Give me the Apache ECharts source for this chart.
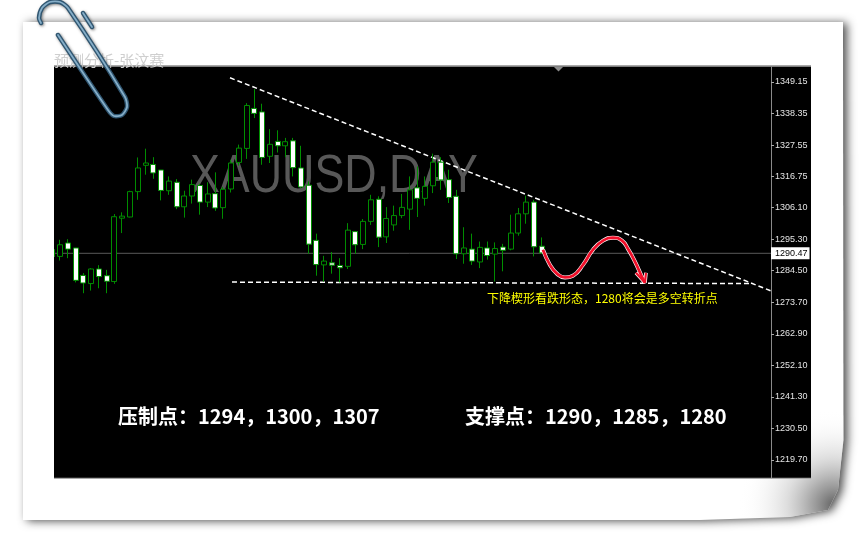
<!DOCTYPE html>
<html><head><meta charset="utf-8">
<style>html,body{margin:0;padding:0;background:#fff}#c{width:867px;height:543px}</style>
<script src="https://cdn.jsdelivr.net/npm/echarts@6/dist/echarts.min.js"></script>
</head><body><div id="c"></div>
<script>
const opens  = [1291.7,1289.4,1294.0,1292.3,1282.9,1280.1,1285.1,1282.8,1280.8,1302.5,1302.9,1311.6,1320.6,1320.9,1319.0,1311.9,1314.8,1306.4,1310.1,1313.7,1308.0,1310.9,1306.1,1312.5,1321.6,1326.4,1340.1,1338.9,1323.7,1328.8,1327.3,1329.0,1319.7,1313.8,1294.9,1286.5,1287.2,1286.3,1286.0,1297.9,1293.5,1301.4,1309.0,1296.1,1300.2,1303.4,1305.6,1312.9,1309.3,1313.6,1321.7,1315.7,1310.0,1290.3,1291.9,1287.5,1292.3,1290.2,1292.6,1291.9,1297.4,1304.0,1308.0,1292.9];
const closes = [1289.4,1293.4,1291.9,1281.2,1280.3,1285.1,1282.5,1280.9,1303.0,1303.2,1311.6,1319.7,1321.4,1318.0,1312.0,1315.2,1306.4,1310.1,1314.0,1308.0,1310.8,1306.0,1312.4,1321.4,1326.5,1341.1,1338.4,1323.3,1327.8,1327.3,1328.7,1319.8,1313.2,1293.6,1286.6,1287.8,1286.4,1285.5,1298.4,1293.4,1301.4,1308.8,1296.0,1302.4,1303.4,1306.2,1312.2,1309.3,1313.4,1321.7,1315.6,1309.6,1290.3,1292.3,1287.8,1292.5,1289.7,1292.1,1291.5,1297.4,1304.0,1308.0,1292.7,1290.6];
const lows   = [1288.8,1288.0,1288.8,1280.5,1276.8,1277.7,1278.5,1276.8,1280.0,1297.4,1302.8,1308.8,1317.4,1316.0,1308.6,1310.5,1305.6,1302.7,1307.5,1303.7,1306.3,1305.0,1302.3,1311.3,1320.5,1322.8,1336.8,1320.8,1321.4,1325.0,1323.4,1316.8,1312.8,1290.3,1282.8,1280.8,1283.5,1280.5,1285.1,1290.3,1291.9,1300.2,1292.6,1294.0,1298.2,1302.5,1298.5,1302.9,1306.8,1311.1,1312.2,1307.7,1288.5,1286.9,1286.5,1285.4,1288.3,1280.8,1284.3,1291.5,1296.5,1300.6,1289.4,1290.3];
const highs  = [1292.3,1295.1,1295.3,1292.3,1283.7,1285.4,1286.4,1284.8,1303.9,1304.5,1311.9,1323.3,1326.3,1323.4,1319.0,1316.8,1315.9,1311.9,1315.7,1314.3,1314.8,1318.2,1313.2,1322.5,1327.7,1341.9,1346.7,1341.7,1333.0,1332.6,1330.0,1330.0,1327.3,1315.1,1297.2,1289.6,1290.9,1288.8,1300.8,1297.9,1302.2,1310.5,1310.0,1306.3,1306.8,1310.8,1316.8,1320.2,1316.8,1324.6,1323.4,1319.1,1312.2,1299.4,1297.2,1294.5,1294.5,1294.2,1293.7,1303.7,1306.0,1310.2,1308.8,1295.9];
const barCount = 93;
const categories = Array.from({length: barCount}, (_, i) => String(i));
const priceTicks = [1349.15,1338.35,1327.55,1316.75,1306.10,1295.30,1284.50,1273.70,1262.90,1252.10,1241.30,1230.50,1219.70];
const currentPrice = 1290.47;
const resistanceX = [22.87, 92.5];
const resistanceY = [1350.6, 1277.6];
const supportX = [23.13, 90.05];
const supportY = [1280.6, 1280.1];
const forecastX = [63.15,64.05,64.95,65.98,67.01,68.30,69.59,70.88,72.16,73.32,74.09,74.99,75.89,76.28];
const forecastY = [1291.7,1286.5,1283.5,1282.2,1282.8,1286.5,1291.7,1294.8,1295.8,1294.8,1292.0,1287.6,1282.4,1280.4];
const arrowX = [75.12,76.28,76.41];
const arrowY = [1283.8,1280.4,1283.8];
const resistanceText = '\u538B\u5236\u70B9\uFF1A1294\uFF0C1300\uFF0C1307';
const supportText = '\u652F\u6491\u70B9\uFF1A1290\uFF0C1285\uFF0C1280';
const noteText = '\u4E0B\u964D\u6954\u5F62\u770B\u8DCC\u5F62\u6001\uFF0C1280\u5C06\u4F1A\u662F\u591A\u7A7A\u8F6C\u6298\u70B9';
const zip = (a, b) => a.map((v, i) => [v, b[i]]);
const candles = opens.map((o, i) => [o, closes[i], lows[i], highs[i]]);
const overlay = (name, data, style, smooth) => ({
  type: 'line', name, xAxisIndex: 1, yAxisIndex: 0, data, smooth: !!smooth, symbol: 'none',
  lineStyle: style, silent: true, z: 3, animation: false
});
const clipStroke = (points, z) => [
  {type:'polyline', z, shape:{points, smooth:0.25}, style:{stroke:'#2f5570', lineWidth:4.5, fill:null, lineCap:'round', shadowBlur:3, shadowColor:'rgba(0,0,0,.5)', shadowOffsetX:1, shadowOffsetY:1}},
  {type:'polyline', z:z+0.1, shape:{points, smooth:0.25}, style:{stroke:'#86aec8', lineWidth:1.8, fill:null, lineCap:'round'}}
];
const chart = echarts.init(document.getElementById('c'), null, {renderer:'canvas'});
chart.setOption({
  animation: false,
  backgroundColor: '#fff',
  grid: {left: 48.4, top: 66.7, width: 722.6, height: 411, show: false},
  xAxis: [
    {type:'category', data: categories, show:false, boundaryGap:true},
    {type:'value', min:-0.5, max:92.5, show:false}
  ],
  yAxis: {
    type:'value', position:'right', min:1213.6, max:1354.39, scale:true,
    splitLine:{show:false},
    axisLine:{show:true, onZero:false, lineStyle:{color:'#8a8a8a', width:1}},
    axisTick:{show:true, length:3, customValues: priceTicks, lineStyle:{color:'#aaa'}},
    axisLabel:{
      customValues: priceTicks.concat([currentPrice]), margin:0, color:'#e4e4e4',
      fontFamily:'Liberation Sans', fontSize:9,
      formatter: v => (Math.abs(v-currentPrice)<0.001 ? '{cur|' : '{n|')+v.toFixed(2)+'}',
      rich:{
        n:{color:'#e4e4e4', fontFamily:'Liberation Sans', fontSize:9, padding:[0,0,0,4]},
        cur:{backgroundColor:'#fff', color:'#000', fontFamily:'Liberation Sans', fontSize:9, padding:[2,2,1,4]}
      }
    }
  },
  series: [
    overlay('price', zip([-0.5,92.5],[currentPrice,currentPrice]), {color:'#5a5a5a', width:1}),
    {type:'candlestick', name:'XAUUSD', data:candles, barWidth:5.5, z:4, silent:true,
      itemStyle:{color:'#000', color0:'#fff', borderColor:'#008c00', borderColor0:'#009000', borderWidth:1}},
    overlay('resistance', zip(resistanceX,resistanceY), {color:'#fff', width:1.5, type:[5,3]}),
    overlay('support', zip(supportX,supportY), {color:'#fff', width:1.5, type:[5,3]}),
    Object.assign(overlay('forecastGlow', zip(forecastX,forecastY), {color:'#fff', width:4}, true), {z:5}),
    Object.assign(overlay('arrowGlow', zip(arrowX,arrowY), {color:'#fff', width:3.6}), {z:5}),
    Object.assign(overlay('forecast', zip(forecastX,forecastY), {color:'#f0102a', width:2.8}, true), {z:6}),
    Object.assign(overlay('arrow', zip(arrowX,arrowY), {color:'#f0102a', width:2.2}), {z:6})
  ],
  graphic: {elements: [
    {type:'polygon', z:-5, shape:{points:[[23,22],[843,22],[843.5,440],[838,490],[828,510],[790,517],[700,520],[23,520]]},
      style:{fill:'#fff', shadowBlur:10, shadowColor:'rgba(0,0,0,.7)', shadowOffsetX:4, shadowOffsetY:1}},
    {type:'polygon', z:-4, shape:{points:[[680,390],[843.5,390],[843.5,440],[838,490],[828,510],[790,517],[700,520],[680,520]]},
      style:{fill:{type:'radial', x:834, y:505, r:95, global:true, colorStops:[{offset:0,color:'rgba(90,90,90,.95)'},{offset:.25,color:'rgba(140,140,140,.75)'},{offset:.5,color:'rgba(190,190,190,.5)'},{offset:.75,color:'rgba(225,225,225,.25)'},{offset:1,color:'rgba(255,255,255,0)'}]}}},
    {type:'rect', z:-3, shape:{x:54,y:65,width:757,height:414}, style:{fill:'#a8a8a8'}},
    {type:'rect', z:-2, shape:{x:54,y:66.7,width:757,height:411}, style:{fill:'#000'}},
    {type:'polygon', z:-1, shape:{points:[[554,67],[563,67],[558.5,71.5]]}, style:{fill:'#8c8c8c'}},
    {type:'text', z:1, x:190, y:151, scaleX:0.845, style:{text:'XAUUSD,DAY', fill:'#585858', font:'53px "Liberation Sans"'}},
    {type:'text', z:7, x:118, y:406, style:{text:resistanceText, fill:'#fff', font:'bold 20px "Noto Sans CJK SC"'}},
    {type:'text', z:7, x:465, y:406, style:{text:supportText, fill:'#fff', font:'bold 20px "Noto Sans CJK SC"'}},
    {type:'text', z:7, x:487, y:292, style:{text:noteText, fill:'#ffff00', font:'12px "Noto Sans CJK SC"'}},
    {type:'text', z:-1, x:54, y:53, style:{text:'预测分析-张汶赛', fill:'#cfcfcf', font:'15px "Noto Sans CJK SC"', shadowBlur:3, shadowColor:'#aaa'}},
    {type:'rect', z:8, shape:{x:44,y:60,width:10,height:425}, style:{fill:'#fff'}},
    ...clipStroke([[83,13],[92,27]], 9),
    ...clipStroke([[58,35],[108,110],[114,116],[122,115],[127,107],[125,97],[68,8],[60,2],[50,2],[42,8],[39,18],[41,23]], 9)
  ]}
});
</script></body></html>
